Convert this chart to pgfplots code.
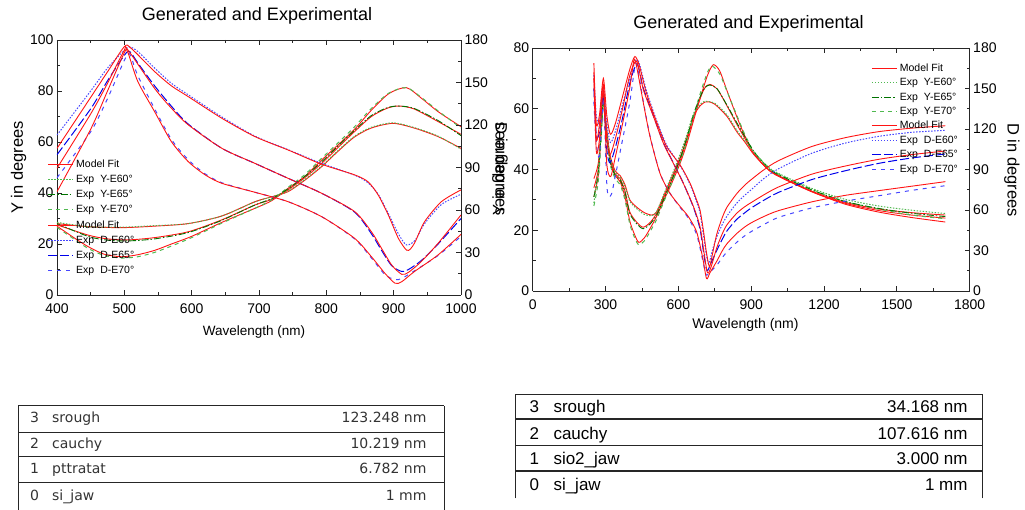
\documentclass[border=0pt]{standalone}
\usepackage{fontspec}
\setmainfont{Liberation Sans}
\newfontfamily\dejavu{DejaVu Sans}
\usepackage{pgfplots}
\pgfplotsset{compat=1.18}

\definecolor{mred}{RGB}{255,20,20}
\definecolor{lgreen}{RGB}{80,185,80}
\definecolor{dgreen}{RGB}{0,115,0}
\definecolor{lblue}{RGB}{70,70,255}
\definecolor{mblue}{RGB}{0,0,235}

\tikzset{
 mfit/.style={color=mred, line width=0.9pt, smooth, tension=0.45},
 ey60/.style={color=lgreen, line width=1pt, dash pattern=on 1.5pt off 1.5pt, smooth, tension=0.45},
 ey65/.style={color=dgreen, line width=0.9pt, dash pattern=on 7pt off 2pt on 1.5pt off 2pt, smooth, tension=0.45},
 ey70/.style={color=lgreen, line width=1pt, dash pattern=on 4pt off 4pt, smooth, tension=0.45},
 ed60/.style={color=lblue, line width=1pt, dash pattern=on 1.5pt off 1.5pt, smooth, tension=0.45},
 ed65/.style={color=mblue, line width=1pt, dash pattern=on 9pt off 3pt, smooth, tension=0.45},
 ed70/.style={color=lblue, line width=1pt, dash pattern=on 4pt off 5pt, smooth, tension=0.45},
}

\pgfplotsset{
 myaxis/.style={
  scale only axis, anchor=south west,
  axis line style={black!85, line width=0.9pt},
  tick style={black!85, line width=0.8pt},
  major tick length=5pt, minor tick length=3pt,
  tick align=inside,
  tick label style={font=\fontsize{14}{16}\selectfont},
  xticklabel style={yshift=-5pt},
  /pgf/number format/assume math mode=true,
  /pgf/number format/1000 sep={},
  minor x tick num=1, minor y tick num=1,
 },
 mylegend/.style={
  legend cell align=left,
  legend image code/.code={\draw[##1] (0pt,0pt) -- (25pt,0pt);},
  legend style={draw=none, fill=none, inner sep=0pt, outer sep=0pt,
    anchor=north west, column sep=2.5pt,
    font=\fontsize{10.5}{11}\selectfont,
    nodes={inner sep=0pt, text height=8pt, text depth=2pt}},
 },
}

\begin{document}
\begin{tikzpicture}
\path[use as bounding box] (0pt,0pt) rectangle (1025pt,510pt);

%================ LEFT PLOT =================
\begin{axis}[myaxis, at={(57pt,215pt)}, width=404pt, height=255pt,
  xmin=400, xmax=1000, ymin=0, ymax=100,
  xtick={400,500,...,1000}, ytick={0,20,...,100},
  axis y line*=left]
% Psi model
\addplot[mfit] coordinates {(400,27)(425,22.5)(446,19)(470,16)(496,15)(520,15.8)(545,17.5)(570,20)(600,23)(645,28.5)(694,34)(719,37)(743,41.8)(768,46.5)(793,52.9)(818,59)(842,65)(867,72.5)(893,79)(919,81.3)(942,77)(966,71.9)(1000,66)};
\addplot[mfit] coordinates {(400,27.5)(446,23.5)(475,22)(505,21.6)(545,22.5)(595,24.8)(645,29.5)(694,35.3)(719,37.5)(743,41.2)(768,46)(793,51.6)(818,58)(842,64.1)(867,70)(890,73.2)(907,74.1)(930,73)(966,68)(1000,63)};
\addplot[mfit] coordinates {(400,28)(446,26.8)(496,26.4)(545,27)(595,28)(645,31)(694,36.6)(719,38.5)(743,40.5)(768,45)(793,50.3)(818,56.5)(842,62)(867,65.5)(899,67.3)(930,65.5)(966,62.1)(1000,57.5)};
% Psi exp
\addplot[ey70] coordinates {(400,26.5)(425,22)(446,18.3)(470,15.5)(496,14.5)(520,15)(545,16.7)(570,19.2)(600,22.5)(645,28.2)(694,34)(719,37.3)(743,42.2)(768,47.2)(793,53.6)(818,59.8)(842,66)(867,73.2)(893,79.2)(919,81.3)(942,77.3)(966,72.2)(1000,65.5)};
\addplot[ey65] coordinates {(400,28)(446,23)(475,21.5)(505,21.2)(545,22)(595,24.5)(645,29.3)(694,35.3)(719,37.8)(743,41.6)(768,46.5)(793,52.2)(818,58.6)(842,64.6)(867,70.4)(890,73.4)(907,74.1)(930,73.2)(966,68.4)(1000,62.5)};
\addplot[ey60] coordinates {(400,28.5)(446,26.8)(496,26.6)(545,27.2)(595,28)(645,31)(694,36.5)(719,38.5)(743,40.7)(768,45.3)(793,50.6)(818,56.8)(842,62.3)(867,65.8)(899,67.5)(930,65.7)(966,62.3)(1000,57.2)};
\end{axis}

\begin{axis}[myaxis, at={(57pt,215pt)}, width=404pt, height=255pt,
  xmin=400, xmax=1000, ymin=0, ymax=180,
  ytick={0,30,...,180},
  axis y line*=right, axis x line=none, mylegend,
  legend style={at={(-0.023,0.532)}, row sep=5.2pt}]
\addlegendimage{mfit}\addlegendentry{Model Fit}
\addlegendimage{ey60}\addlegendentry{Exp\hspace{6pt}Y-E60°}
\addlegendimage{ey65}\addlegendentry{Exp\hspace{6pt}Y-E65°}
\addlegendimage{ey70}\addlegendentry{Exp\hspace{6pt}Y-E70°}
\addlegendimage{mfit}\addlegendentry{Model Fit}
\addlegendimage{ed60}\addlegendentry{Exp\hspace{6pt}D-E60°}
\addlegendimage{ed65}\addlegendentry{Exp\hspace{6pt}D-E65°}
\addlegendimage{ed70}\addlegendentry{Exp\hspace{6pt}D-E70°}
% Delta exp
\addplot[ed60, forget plot] coordinates {(400,112.9)(450,144)(475,160.2)(500,172.8)(508,175.1)(520,171.9)(545,160.2)(570,149.4)(595,141.3)(645,125.6)(694,112.1)(743,102.6)(793,92.9)(842,84.6)(862,79.2)(877,71.1)(892,57.6)(907,43.2)(919,35.3)(932,38.7)(946,50.4)(971,63.9)(1000,71.1)};
\addplot[ed65, forget plot] coordinates {(400,99)(450,131.4)(475,151.2)(500,169.2)(508,171.9)(520,163.8)(545,147.6)(570,133.2)(595,120.6)(645,103.5)(694,92.9)(743,82.4)(793,71.8)(842,58.5)(867,43.2)(882,31.5)(897,20.7)(912,16.6)(922,18)(941,24.3)(966,36)(1000,54)};
\addplot[ed70, forget plot] coordinates {(400,82.8)(450,115.2)(475,138.6)(500,165.6)(508,170.1)(520,154.8)(545,131.4)(570,109.8)(595,95.4)(620,85.5)(645,79.2)(694,72.5)(743,65.9)(793,55.3)(842,39.6)(867,26.1)(887,14.4)(902,10.8)(912,11.7)(931,17.1)(966,27.9)(1000,41.4)};
% Delta model
\addplot[mfit, forget plot] coordinates {(400,103.5)(450,139.5)(475,157.5)(500,175.3)(510,174.2)(545,157.7)(570,147.6)(595,140.0)(645,124.7)(694,111.8)(743,102.4)(793,92.3)(842,84.8)(862,79.9)(877,70.6)(892,56.5)(907,40.0)(919,31.7)(925,32.5)(932,37.6)(946,51.8)(971,65.9)(1000,74.2)};
\addplot[mfit, forget plot] coordinates {(400,89.5)(450,127.8)(475,149.4)(500,172.8)(505,173.2)(545,145.8)(570,131.8)(595,120.1)(645,103.5)(694,92.9)(743,82.4)(793,71.8)(842,58.9)(867,44.6)(882,32.9)(897,21.2)(912,14.6)(922,16.0)(941,23.6)(966,36.5)(1000,56.5)};
\addplot[mfit, forget plot] coordinates {(400,72.9)(450,117)(475,144)(500,171)(505,171.5)(520,150.7)(545,129.4)(570,108.2)(595,94.1)(620,84.8)(645,78.8)(694,72.5)(743,65.9)(793,55.3)(842,40.0)(867,27.0)(887,15.3)(902,8.3)(912,9.4)(931,16.6)(966,28.3)(1000,42.8)};
\end{axis}

%================ RIGHT PLOT =================
\begin{axis}[myaxis, at={(532.7pt,219pt)}, width=437pt, height=243pt,
  xmin=0, xmax=1800, ymin=0, ymax=80,
  xtick={0,300,...,1800}, ytick={0,20,...,80},
  axis y line*=left]
% Psi model
\addplot[mfit] coordinates {(252,31)(270,38)(282,52)(291,63)(300,55)(318,43)(340,38)(360,36)(380,31)(400,23)(420,18.5)(437,16)(460,17.5)(483,20.5)(510,24.5)(538,29.5)(570,35)(607,42)(635,48.5)(662,56)(690,63.5)(720,71)(744,74.5)(770,72.5)(800,66)(840,57.5)(874,51)(910,45.5)(957,41)(1000,38.3)(1149,32.7)(1286,28.6)(1424,26)(1560,24.2)(1700,22.7)};
\addplot[mfit] coordinates {(252,34)(270,40)(282,53)(291,64)(300,56)(318,44)(340,38.5)(360,37)(380,33)(400,26)(430,22.5)(455,21)(483,22.5)(510,25.5)(538,30.5)(570,36)(607,43)(635,49.5)(662,57)(690,63.5)(710,67)(730,68)(760,66.5)(800,61)(840,55)(874,50.2)(910,45.3)(957,41)(1000,38.3)(1149,32.7)(1286,28.9)(1424,26.5)(1560,25)(1700,24)};
\addplot[mfit] coordinates {(252,37)(270,42)(282,54)(291,65)(300,57)(318,45)(340,39.5)(360,38)(380,35)(400,30)(430,27.5)(460,25.8)(490,25)(510,26)(538,31)(570,37)(607,44)(635,50.5)(662,57.5)(690,61)(710,62.2)(723,62.3)(750,61.5)(800,57.5)(840,52.5)(874,49)(910,45)(957,41)(1000,38.5)(1149,32.9)(1286,29.2)(1424,27)(1560,25.8)(1700,25)};
% Psi exp
\addplot[ey70] coordinates {(252,28)(270,36)(282,50)(291,62)(300,54)(318,42)(340,37)(360,35)(380,30)(400,22)(420,17.5)(437,15.2)(460,16.5)(483,19.5)(510,23.5)(538,29)(570,35)(607,42.5)(635,49.5)(662,57.5)(690,65)(720,72)(740,74)(770,71.5)(800,65.8)(840,58)(874,51.5)(910,46)(957,41.8)(1000,39)(1149,33.5)(1286,29.5)(1424,27)(1560,25)(1700,23.8)};
\addplot[ey65] coordinates {(252,31)(270,39)(282,52)(291,64)(300,55)(318,43)(340,38)(360,36.5)(380,32.5)(400,25.5)(430,22)(455,20.5)(483,22)(510,25)(538,30)(570,36)(607,43.5)(635,50.5)(662,58)(690,64)(710,67)(730,67.8)(760,66.5)(800,61.2)(840,55.5)(874,50.8)(910,46)(957,41.6)(1000,38.8)(1149,33.3)(1286,29.5)(1424,27.2)(1560,25.6)(1700,24.5)};
\addplot[ey60] coordinates {(252,29)(270,40)(282,53)(291,65.7)(300,56)(318,44)(340,39)(360,37.5)(380,34.5)(400,29.5)(430,27)(460,25.2)(490,24.8)(510,26)(538,31.5)(570,37.5)(607,45)(635,51.5)(662,58.2)(690,61.5)(710,62.5)(723,62.4)(750,61.8)(800,58)(840,53)(874,49.5)(910,45.8)(957,41.8)(1000,39.2)(1149,33.8)(1286,30.2)(1424,28)(1560,26.6)(1700,25.5)};
\end{axis}

\begin{axis}[myaxis, at={(532.7pt,219pt)}, width=437pt, height=243pt,
  xmin=0, xmax=1800, ymin=0, ymax=180,
  ytick={0,30,...,180},
  axis y line*=right, axis x line=none, mylegend,
  legend style={at={(0.775,0.937)}, row sep=4.4pt}]
\addlegendimage{mfit}\addlegendentry{Model Fit}
\addlegendimage{ey60}\addlegendentry{Exp\hspace{6pt}Y-E60°}
\addlegendimage{ey65}\addlegendentry{Exp\hspace{6pt}Y-E65°}
\addlegendimage{ey70}\addlegendentry{Exp\hspace{6pt}Y-E70°}
\addlegendimage{mfit}\addlegendentry{Model Fit}
\addlegendimage{ed60}\addlegendentry{Exp\hspace{6pt}D-E60°}
\addlegendimage{ed65}\addlegendentry{Exp\hspace{6pt}D-E65°}
\addlegendimage{ed70}\addlegendentry{Exp\hspace{6pt}D-E70°}
% Delta exp
\addplot[ed60, forget plot] coordinates {(252,160)(262,130)(275,125)(291,150)(305,125)(320,110)(340,118)(370,138)(400,158)(425,171)(440,168)(469,148)(511,126)(552,108)(607,93)(648,79)(675,66)(689,58)(703,42)(715,27)(725,20)(740,30)(758,40)(780,49)(800,55.5)(840,65)(874,71)(900,75)(950,83)(1012,90.5)(1149,102)(1286,109.5)(1424,114.5)(1560,117.5)(1700,119)};
\addplot[ed65, forget plot] coordinates {(252,150)(262,115)(275,118)(291,145)(305,105)(318,95)(340,106)(370,128)(400,154)(430,168)(456,150)(497,130)(538,110)(579,95)(620,80)(662,62)(689,46)(705,27)(718,15)(735,21)(758,30)(780,38)(800,44.5)(840,53)(874,58)(900,61.5)(950,67)(1012,73)(1149,82.5)(1286,89)(1424,94.5)(1560,98.5)(1700,101.5)};
\addplot[ed70, forget plot] coordinates {(252,140)(262,110)(275,100)(291,140)(305,80)(313,70)(325,72)(340,85)(370,112)(400,140)(420,165)(430,167)(456,140)(483,115)(524,87.5)(565,72.5)(607,62)(641,54)(675,42)(700,23)(714,12)(730,14)(758,19)(780,24.5)(800,29)(840,36)(874,41)(900,44)(950,49)(1012,54.5)(1149,61.5)(1286,66.5)(1424,70.5)(1560,74.5)(1700,78)};
% Delta model
\addplot[mfit, forget plot] coordinates {(252,168.8)(262,123.8)(275,130.5)(291,157.5)(305,130.5)(320,116.1)(340,123.8)(370,144)(400,164.3)(421,173.7)(440,166.5)(469,146.3)(511,124.9)(552,106.9)(607,93.4)(648,79.9)(675,67.5)(689,60.1)(703,45)(715,29.3)(728,18)(740,27)(758,42)(780,54)(800,62)(840,72)(874,78.5)(900,82.5)(950,89.5)(1012,96.5)(1149,107)(1286,113.5)(1424,118)(1560,120.6)(1700,122.4)};
\addplot[mfit, forget plot] coordinates {(252,162)(262,112.5)(275,123.8)(291,153)(305,112.5)(318,100.8)(340,112.5)(370,135)(400,159.8)(428,170.1)(456,149)(497,129.4)(538,109.6)(579,94.7)(620,79.9)(662,62.6)(689,47.7)(705,29.3)(720,13.5)(735,18)(758,32)(780,42)(800,49)(840,57.5)(874,62.5)(900,65.5)(950,71)(1012,77)(1149,86.5)(1286,92.5)(1424,97.5)(1560,101)(1700,103.7)};
\addplot[mfit, forget plot] coordinates {(252,157.5)(262,103.5)(275,112.5)(291,148.5)(305,94.5)(321,84.8)(340,99)(370,123.8)(400,150.8)(417,171)(428,166.3)(456,139.1)(483,114.5)(524,87.3)(565,72.5)(607,62.6)(641,55.1)(675,43.9)(700,24.8)(716,9.2)(730,13.5)(758,22)(780,29.5)(800,35)(840,42.5)(874,47.5)(900,50.5)(950,55)(1012,59.5)(1149,66)(1286,70.8)(1424,74.3)(1560,77.6)(1700,81)};
\end{axis}

%================ TEXT LABELS =================
\node[font=\fontsize{18}{20}\selectfont] at (257pt,494pt) {Generated and Experimental};
\node[font=\fontsize{18}{20}\selectfont] at (748.5pt,486pt) {Generated and Experimental};
\node[font=\fontsize{13.5}{15}\selectfont] at (254pt,178pt) {Wavelength (nm)};
\node[font=\fontsize{14}{16}\selectfont] at (745.5pt,185pt) {Wavelength (nm)};
\node[font=\fontsize{16.5}{18}\selectfont, rotate=90] at (18.5pt,342.5pt) {Y in degrees};
\node[font=\fontsize{16.5}{18}\selectfont, rotate=-90] at (500pt,341pt) {D in degrees};
\node[font=\fontsize{16.5}{18}\selectfont, rotate=90] at (500pt,341pt) {Y in degrees};
\node[font=\fontsize{16.5}{18}\selectfont, rotate=-90] at (1012pt,340pt) {D in degrees};

%================ LEFT TABLE =================
\begin{scope}[line width=1.1pt, black!85]
\draw (18.3pt,0pt) -- (18.3pt,104.3pt);
\draw (444.3pt,0pt) -- (444.3pt,104.3pt);
\draw[line width=1.4pt] (18.3pt,104.3pt) -- (444.3pt,104.3pt);
\draw (18.3pt,77.3pt) -- (444.3pt,77.3pt);
\draw (18.3pt,53.3pt) -- (444.3pt,53.3pt);
\draw (18.3pt,27.3pt) -- (444.3pt,27.3pt);
\end{scope}
\begin{scope}[every node/.style={font=\dejavu\fontsize{14}{16}\selectfont, text=black!80, inner sep=0pt}]
\node[anchor=base west] at (30pt,87pt) {3};
\node[anchor=base west] at (52pt,87pt) {srough};
\node[anchor=base east] at (426.7pt,87pt) {123.248 nm};
\node[anchor=base west] at (30pt,61pt) {2};
\node[anchor=base west] at (52pt,61pt) {cauchy};
\node[anchor=base east] at (426.7pt,61pt) {10.219 nm};
\node[anchor=base west] at (30pt,36pt) {1};
\node[anchor=base west] at (52pt,36pt) {pttratat};
\node[anchor=base east] at (426.7pt,36pt) {6.782 nm};
\node[anchor=base west] at (30pt,9pt) {0};
\node[anchor=base west] at (52pt,9pt) {si\_jaw};
\node[anchor=base east] at (426.7pt,9pt) {1 mm};
\end{scope}

%================ RIGHT TABLE =================
\begin{scope}[line width=1.1pt, black!85]
\draw (515.7pt,11.7pt) -- (515.7pt,115.7pt);
\draw (982.3pt,11.7pt) -- (982.3pt,115.7pt);
\draw (515.7pt,115.7pt) -- (982.3pt,115.7pt);
\draw (515.7pt,91pt) -- (982.3pt,91pt);
\draw (515.7pt,64.3pt) -- (982.3pt,64.3pt);
\draw (515.7pt,39pt) -- (982.3pt,39pt);
\end{scope}
\begin{scope}[every node/.style={font=\fontsize{17}{19}\selectfont, text=black, inner sep=0pt}]
\node[anchor=base west] at (529.5pt,97.3pt) {3};
\node[anchor=base west] at (553.3pt,97.3pt) {srough};
\node[anchor=base east] at (967.7pt,97.3pt) {34.168 nm};
\node[anchor=base west] at (529.5pt,70.7pt) {2};
\node[anchor=base west] at (553.3pt,70.7pt) {cauchy};
\node[anchor=base east] at (967.7pt,70.7pt) {107.616 nm};
\node[anchor=base west] at (529.5pt,45.7pt) {1};
\node[anchor=base west] at (553.3pt,45.7pt) {sio2\_jaw};
\node[anchor=base east] at (967.7pt,45.7pt) {3.000 nm};
\node[anchor=base west] at (529.5pt,19pt) {0};
\node[anchor=base west] at (553.3pt,19pt) {si\_jaw};
\node[anchor=base east] at (967.7pt,19pt) {1 mm};
\end{scope}
\end{tikzpicture}
\end{document}
